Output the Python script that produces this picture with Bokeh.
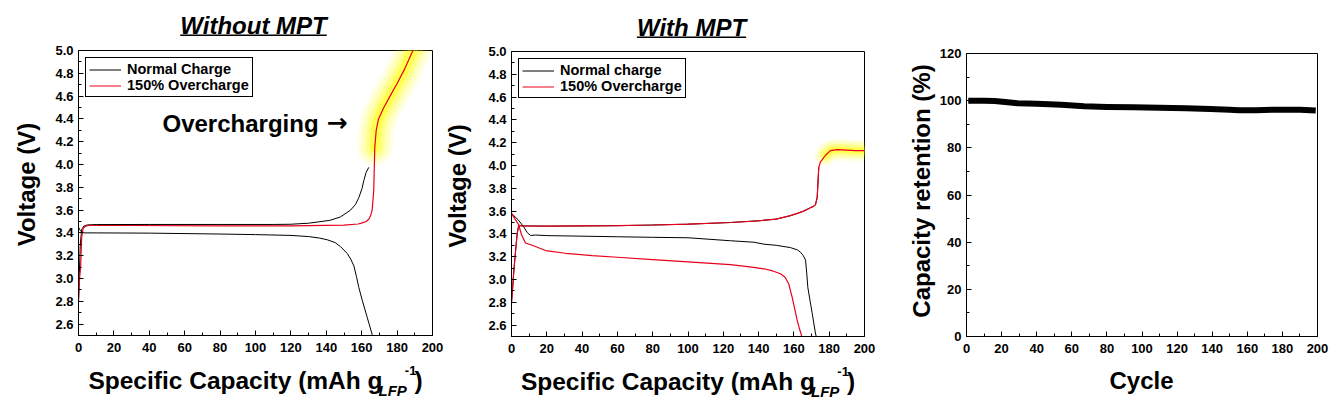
import math
from bokeh.plotting import figure
from bokeh.layouts import row, column, Spacer
from bokeh.models import (Label, BoxAnnotation, FixedTicker, Range1d, Legend,
                          LegendItem, NumeralTickFormatter)
from bokeh.embed import file_html
from bokeh.resources import INLINE

FONT = "Liberation Sans"

# ---------------- data ----------------
# Without MPT
wo_normal_charge_cap = [0, 0.5, 1.0, 1.8, 3.0, 5.0, 10, 40, 80, 110, 120, 130, 142, 148,
                        153.7, 156.5, 158.4, 160.2, 161.2, 162.5, 164.0]
wo_normal_charge_v = [2.80, 3.05, 3.30, 3.43, 3.46, 3.47, 3.473, 3.474, 3.474, 3.474, 3.476,
                      3.485, 3.51, 3.54, 3.60, 3.65, 3.71, 3.79, 3.86, 3.93, 3.975]
wo_normal_dis_cap = [0, 1, 3, 10, 40, 80, 100, 120, 130, 136, 140.5, 145, 148, 151.8, 153.8,
                     155.6, 157.0, 158.4, 160.3, 163.1, 165.9, 166.6]
wo_normal_dis_v = [3.45, 3.42, 3.40, 3.40, 3.398, 3.39, 3.385, 3.378, 3.368, 3.355, 3.34,
                   3.315, 3.28, 3.22, 3.17, 3.11, 3.02, 2.92, 2.81, 2.66, 2.51, 2.48]
wo_over_cap = [0, 0.6, 1.2, 1.8, 2.6, 4.0, 6.0, 30, 80, 120, 150, 158, 160.3, 162.5, 164.0,
               165.0, 165.9, 166.8, 167.4, 168.2, 169.5, 172.5, 176, 180, 184, 188.5, 189.5]
wo_over_v = [2.80, 3.00, 3.10, 3.36, 3.44, 3.46, 3.465, 3.465, 3.462, 3.462, 3.468, 3.478,
             3.488, 3.50, 3.52, 3.55, 3.60, 3.77, 4.15, 4.30, 4.40, 4.50, 4.60, 4.71, 4.83,
             4.985, 5.02]

# With MPT
w_normal_charge_cap = [0, 0.4, 1.2, 2.3, 3.2, 4.1, 6, 20, 40, 60, 80, 100, 124, 140, 150,
                       158, 162, 165.5, 169.4, 171, 172.2, 173.2, 174.1]
w_normal_charge_v = [2.80, 2.87, 3.05, 3.25, 3.40, 3.475, 3.47, 3.468, 3.47, 3.472, 3.478,
                     3.485, 3.50, 3.515, 3.53, 3.56, 3.58, 3.60, 3.63, 3.64, 3.655, 3.72, 3.985]
w_over_charge_cap = [0, 0.4, 1.2, 2.3, 3.2, 4.1, 6, 20, 40, 60, 80, 100, 124, 140, 150,
                     158, 162, 165.5, 169.4, 171, 172.2, 173.2, 174.1, 175, 177.9, 180.7,
                     184.5, 190, 195, 200]
w_over_charge_v = [2.80, 2.87, 3.05, 3.25, 3.40, 3.475, 3.47, 3.468, 3.47, 3.472, 3.478,
                   3.485, 3.50, 3.515, 3.53, 3.56, 3.58, 3.60, 3.63, 3.64, 3.655, 3.72, 3.985,
                   4.03, 4.09, 4.13, 4.14, 4.135, 4.13, 4.13]
w_normal_dis_cap = [0, 2, 4, 7, 9, 10.8, 13.6, 20, 40, 60, 80, 100, 124, 137.3, 143, 150,
                    158, 162, 163.7, 165.3, 166.6, 167.3, 167.9, 169.2, 170.4, 172.2, 172.8]
w_normal_dis_v = [3.58, 3.55, 3.52, 3.46, 3.41, 3.386, 3.39, 3.385, 3.38, 3.375, 3.37, 3.366,
                  3.34, 3.327, 3.31, 3.30, 3.28, 3.26, 3.24, 3.21, 3.17, 3.05, 2.93, 2.81,
                  2.70, 2.53, 2.49]
w_over_dis_cap = [0, 2, 4.1, 5.5, 7.9, 11.7, 19.3, 30.6, 45.7, 60, 80, 100, 124, 135, 143,
                  148, 152.4, 155, 157.1, 159, 160.5, 161.9, 163.5, 164.7]
w_over_dis_v = [3.58, 3.53, 3.48, 3.40, 3.32, 3.30, 3.254, 3.23, 3.21, 3.195, 3.175, 3.155,
                3.13, 3.11, 3.094, 3.075, 3.05, 3.02, 2.96, 2.845, 2.74, 2.64, 2.55, 2.49]

# Capacity retention
ret_cycle = [1, 10, 16, 22, 29, 40, 54, 67, 80, 95, 110, 125, 139, 150, 155, 165, 177, 190, 199]
ret_value = [100.0, 100.0, 99.9, 99.4, 98.9, 98.7, 98.3, 97.6, 97.3, 97.2, 97.0, 96.8, 96.5,
             96.1, 95.9, 95.9, 96.2, 96.1, 95.8]

# ticks
cap_ticks = [0, 20, 40, 60, 80, 100, 120, 140, 160, 180, 200]
cap_minor = [10, 30, 50, 70, 90, 110, 130, 150, 170, 190]
volt_ticks = [2.6, 2.8, 3.0, 3.2, 3.4, 3.6, 3.8, 4.0, 4.2, 4.4, 4.6, 4.8, 5.0]
volt_minor = [2.5, 2.7, 2.9, 3.1, 3.3, 3.5, 3.7, 3.9, 4.1, 4.3, 4.5, 4.7, 4.9]
ret_ticks = [0, 20, 40, 60, 80, 100, 120]
ret_minor = [10, 30, 50, 70, 90, 110]

# ---------------- helpers ----------------
# Arial/Liberation Sans Bold advance widths (per 1000 em)
ADV = {' ': 278, '(': 333, ')': 333, '-': 333, '1': 556, '%': 889, '0': 556, '5': 556,
       'S': 667, 'p': 611, 'e': 556, 'c': 556, 'i': 278, 'f': 333, 'C': 722, 'a': 556,
       't': 333, 'y': 556, 'm': 889, 'A': 722, 'h': 611, 'g': 611, 'L': 611, 'F': 611,
       'P': 667, 'V': 667, 'o': 611, 'l': 278, 'r': 389, 'n': 611, 'W': 944, 'M': 833,
       'T': 611, 'O': 778, 'v': 556, 'u': 611}

MID = 0.35      # vertical middle of the text box above the baseline (em)
ROT_FIX = 23    # calibration for rotated labels


def tw(s, size):
    return sum(ADV.get(ch, 600) for ch in s) * size / 1000.0


def lab(p, text, x, base_y, size, style="bold", align="left", font=FONT):
    """Horizontal label whose baseline sits at base_y (frame pixels, y up)."""
    p.add_layout(Label(x=x, y=base_y + MID * size, x_units="screen", y_units="screen",
                       text=text, text_font=font, text_font_style=style,
                       text_font_size=f"{size}px", text_color="black", text_align=align,
                       text_baseline="middle"))


def vlab(p, text, x, cy, size):
    """Vertical label reading bottom-to-top, centred on (x, cy)."""
    p.add_layout(Label(x=x, y=cy - ROT_FIX, x_units="screen", y_units="screen", text=text,
                       text_font=FONT, text_font_style="bold", text_font_size=f"{size}px",
                       text_color="black", text_align="center", text_baseline="middle",
                       angle=math.pi / 2))


def text_fig(w, h):
    f = figure(width=w, height=h, x_range=Range1d(0, w), y_range=Range1d(0, h),
               output_backend="svg", toolbar_location=None, min_border=0,
               min_border_left=0, min_border_right=0, min_border_top=0,
               min_border_bottom=0, x_axis_type=None, y_axis_type=None)
    f.outline_line_color = None
    f.xgrid.visible = False
    f.ygrid.visible = False
    f.background_fill_color = "white"
    f.border_fill_color = "white"
    return f


def make_fig(width, height, left, right, top, bottom, xr, yr):
    p = figure(width=width, height=height, x_range=Range1d(*xr), y_range=Range1d(*yr),
               output_backend="svg", toolbar_location=None,
               min_border_left=left, min_border_right=right, min_border_top=top,
               min_border_bottom=bottom)
    p.background_fill_color = "white"
    p.border_fill_color = "white"
    p.outline_line_color = "black"
    p.outline_line_width = 1
    p.outline_line_alpha = 1
    p.xgrid.visible = False
    p.ygrid.visible = False
    return p


def style_axes(p, xt, xm, yt, ym, yfmt=None):
    p.xaxis.ticker = FixedTicker(ticks=xt, minor_ticks=xm)
    p.yaxis.ticker = FixedTicker(ticks=yt, minor_ticks=ym)
    if yfmt:
        p.yaxis.formatter = NumeralTickFormatter(format=yfmt)
    for ax in (p.xaxis[0], p.yaxis[0]):
        ax.axis_line_color = "black"
        ax.axis_line_width = 1
        ax.major_tick_in = 5
        ax.major_tick_out = 0
        ax.minor_tick_in = 3
        ax.minor_tick_out = 0
        ax.major_tick_line_color = "black"
        ax.minor_tick_line_color = "black"
        ax.major_label_text_font = FONT
        ax.major_label_text_font_style = "bold"
        ax.major_label_text_font_size = "13px"
        ax.major_label_text_color = "black"
    p.xaxis.major_label_standoff = 7
    p.yaxis.major_label_standoff = 5


def xlabel_capacity(f, cx, base_y):
    main_s, sub_s, sup_s = 24.5, 15, 13
    parts = [("Specific Capacity (mAh g", main_s, "bold", 0, -4),
             ("LFP", sub_s, "bold italic", -6, -2),
             ("-1", sup_s, "bold", 14, -2),
             (")", main_s, "bold", 0, 0)]
    total = sum(tw(t, s) + adj for t, s, _, _, adj in parts)
    x = cx - total / 2.0
    for t, s, st, dy, adj in parts:
        lab(f, t, x, base_y + dy, s, style=st)
        x += tw(t, s) + adj


def title_underlined(f, text, cx, base_y, size=24):
    lab(f, text, cx, base_y, size, style="bold italic", align="center")
    w = tw(text, size)
    f.add_layout(BoxAnnotation(left=cx - w / 2.0, right=cx + w / 2.0, top=base_y - 1.0,
                               bottom=base_y - 2.6, fill_color="black", fill_alpha=1,
                               line_color=None))


def make_legend(p, items):
    leg = Legend(items=items, location="top_left", margin=7, padding=3, spacing=0,
                 glyph_width=32, glyph_height=15, label_height=15, label_standoff=6,
                 label_text_font=FONT, label_text_font_style="bold",
                 label_text_font_size="14.5px", label_text_color="black",
                 border_line_color="black", border_line_width=1, border_line_alpha=1,
                 background_fill_color="white", background_fill_alpha=1)
    p.add_layout(leg)


GLOW = "#ffff00"


def glow(p, xs, ys, scale=1.0):
    for w, a in ((36, 0.10), (28, 0.16), (19, 0.28), (10, 0.45)):
        p.line(xs, ys, line_width=w * scale, line_alpha=a, color=GLOW, line_cap="round",
               line_join="round")


RED = "#e8001a"

# ---------------- panel 1 : Without MPT ----------------
p1 = make_fig(397, 317, 30, 13, 8, 24, (0, 200), (2.5, 5.0))
style_axes(p1, cap_ticks, cap_minor, volt_ticks, volt_minor, "0.0")
g1x = [c for c, v in zip(wo_over_cap, wo_over_v) if v >= 4.15]
g1y = [v for v in wo_over_v if v >= 4.15]
glow(p1, g1x, g1y)
r1a = p1.line(wo_normal_charge_cap, wo_normal_charge_v, color="black", line_width=1)
p1.line(wo_normal_dis_cap, wo_normal_dis_v, color="black", line_width=1)
r1b = p1.line(wo_over_cap, wo_over_v, color=RED, line_width=1.2)
make_legend(p1, [LegendItem(label="Normal Charge", renderers=[r1a]),
                 LegendItem(label="150% Overcharge", renderers=[r1b])])
lab(p1, "Overcharging", 84, 204, 24)
lab(p1, "\u2192", 248, 204, 25, font="DejaVu Sans")

t1 = text_fig(445, 42)
title_underlined(t1, "Without MPT", 253, 9)
y1 = text_fig(48, 317)
vlab(y1, "Voltage (V)", 26, 174, 24)
x1 = text_fig(445, 43)
xlabel_capacity(x1, 255, 13)
panel1 = column(t1, row(y1, p1), x1)

# ---------------- panel 2 : With MPT ----------------
p2 = make_fig(396, 317, 30, 13, 8, 24, (0, 200), (2.5, 5.0))
style_axes(p2, cap_ticks, cap_minor, volt_ticks, volt_minor, "0.0")
g2x = [c for c, v in zip(w_over_charge_cap, w_over_charge_v) if v >= 4.05]
g2y = [v for v in w_over_charge_v if v >= 4.05]
glow(p2, g2x, g2y, scale=0.6)
r2a = p2.line(w_normal_charge_cap, w_normal_charge_v, color="black", line_width=1)
p2.line(w_normal_dis_cap, w_normal_dis_v, color="black", line_width=1)
r2b = p2.line(w_over_charge_cap, w_over_charge_v, color=RED, line_width=1.2)
p2.line(w_over_dis_cap, w_over_dis_v, color=RED, line_width=1.2)
make_legend(p2, [LegendItem(label="Normal charge", renderers=[r2a]),
                 LegendItem(label="150% Overcharge", renderers=[r2b])])

t2 = text_fig(432, 43)
title_underlined(t2, "With MPT", 246, 8)
y2 = text_fig(36, 317)
vlab(y2, "Voltage (V)", 12, 173.5, 24)
x2 = text_fig(432, 42)
xlabel_capacity(x2, 242.5, 12)
panel2 = column(t2, row(y2, p2), x2)

# ---------------- panel 3 : capacity retention ----------------
p3 = make_fig(403, 316, 30, 22, 8, 25, (0, 200), (0, 120))
style_axes(p3, cap_ticks, cap_minor, ret_ticks, ret_minor)
p3.line(ret_cycle, ret_value, color="black", line_width=6, line_join="round")

t3 = Spacer(width=462, height=45)
y3 = text_fig(59, 316)
vlab(y3, "Capacity retention (%)", 44, 168.5, 24)
x3 = text_fig(462, 41)
lab(x3, "Cycle", 264, 14, 24, align="center")
panel3 = column(t3, row(y3, p3), x3)

layout = row(panel1, panel2, panel3)
open("out.html", "w").write(file_html(layout, INLINE))
